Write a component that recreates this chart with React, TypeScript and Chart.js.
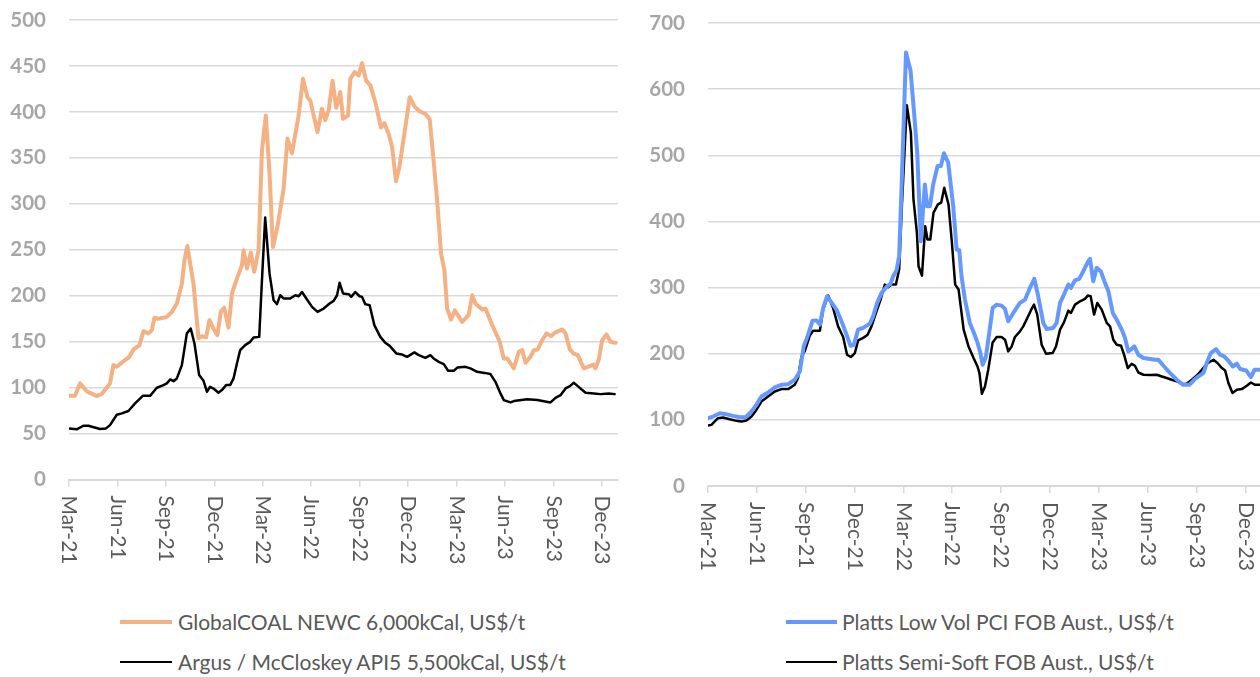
import React, { useEffect, useRef } from "react";
import { Chart, registerables } from "chart.js";

Chart.register(...registerables);

// x values are months since Mar-21
const tickMonths = [0, 3, 6, 9, 12, 15, 18, 21, 24, 27, 30, 33];
const tickLabels = ["Mar-21", "Jun-21", "Sep-21", "Dec-21", "Mar-22", "Jun-22", "Sep-22", "Dec-22", "Mar-23", "Jun-23", "Sep-23", "Dec-23"];

const newcT = [0, 0.37, 0.68, 1.13, 1.72, 2.03, 2.54, 2.75, 2.96, 3.47, 3.74, 3.99, 4.36, 4.61, 4.92, 5.13, 5.29, 5.54, 6.06, 6.37, 6.68, 6.99, 7.15, 7.33, 7.71, 8.02, 8.23, 8.49, 8.7, 8.95, 9.19, 9.4, 9.61, 9.88, 10.09, 10.4, 10.71, 10.81, 11.02, 11.26, 11.47, 11.74, 11.95, 12.19, 12.42, 12.63, 12.91, 13.29, 13.53, 13.81, 14.22, 14.49, 14.77, 14.94, 15.39, 15.67, 15.87, 16.08, 16.32, 16.55, 16.8, 16.97, 17.28, 17.42, 17.69, 17.94, 18.15, 18.4, 18.66, 18.97, 19.32, 19.53, 19.8, 20.01, 20.25, 20.46, 20.77, 21.1, 21.39, 21.72, 22.07, 22.34, 22.58, 22.8, 23.04, 23.25, 23.42, 23.66, 23.89, 24.35, 24.75, 24.97, 25.17, 25.59, 25.79, 26.21, 26.68, 26.92, 27.14, 27.55, 27.86, 28.07, 28.27, 28.58, 28.79, 29.03, 29.31, 29.57, 29.86, 30.07, 30.55, 30.75, 31.02, 31.26, 31.51, 31.88, 32.13, 32.47, 32.61, 32.81, 33.02, 33.29, 33.54, 33.85];
const newcV = [91, 91, 104.6, 95.5, 91, 93, 104.6, 124.5, 122.6, 130, 133.5, 141.5, 146, 161.4, 159, 162.5, 176, 175, 177, 182.4, 191.5, 213, 238.6, 254, 213, 153.5, 156, 154.6, 173.4, 164, 157, 182.4, 187, 165.4, 202.4, 218.7, 233, 249.5, 229.6, 247, 226, 249.5, 358, 396, 333, 253, 275, 316.5, 371, 355, 396, 436, 416, 412.5, 378, 403.5, 391, 401.6, 434, 404.6, 421.5, 392.6, 396, 436, 443.3, 439.7, 453, 434, 428.8, 410.7, 383, 387.8, 376, 361.8, 324.5, 340, 376, 416, 406, 400.5, 398, 392, 347, 303.8, 246, 227.7, 186, 174, 184, 171.5, 178.8, 200.5, 191.5, 185, 186, 168, 149.8, 131.7, 131.7, 120.9, 139, 140.8, 127, 133.5, 140.8, 141.5, 151.6, 159, 156, 159.6, 163.3, 159, 141.5, 137, 135.3, 120.9, 122.6, 125, 120.9, 130.6, 151.6, 157.8, 149.8, 148.7];

const api5T = [0, 0.48, 0.89, 1.2, 1.92, 2.29, 2.54, 2.96, 3.27, 3.68, 4.09, 4.57, 5.02, 5.44, 5.85, 6.06, 6.26, 6.47, 6.68, 6.99, 7.3, 7.54, 7.77, 8.06, 8.33, 8.54, 8.74, 8.95, 9.26, 9.47, 9.73, 9.98, 10.19, 10.4, 10.6, 10.91, 11.22, 11.43, 11.78, 11.95, 12.15, 12.42, 12.67, 12.88, 13.08, 13.29, 13.7, 14.01, 14.22, 14.43, 14.74, 15.05, 15.39, 15.77, 16.14, 16.39, 16.6, 16.76, 16.97, 17.32, 17.48, 17.73, 18.0, 18.15, 18.35, 18.62, 18.91, 19.28, 19.59, 19.86, 20.27, 20.63, 20.94, 21.39, 21.66, 22.07, 22.38, 22.58, 22.9, 23.21, 23.48, 23.83, 24.07, 24.55, 24.86, 25.28, 25.73, 26.1, 26.41, 26.72, 26.93, 27.34, 27.55, 28.38, 29.0, 29.82, 30.13, 30.44, 30.75, 31.02, 31.26, 31.51, 31.79, 31.99, 32.5, 32.92, 33.43, 33.79];
const api5V = [55.6, 54.6, 58.5, 58.5, 54.9, 55.6, 59.2, 70.5, 72, 74.5, 82.8, 91, 91, 99.8, 102.7, 104.6, 108.9, 107, 110, 124.5, 159, 164.3, 148, 113.6, 107.4, 95.5, 100.9, 99, 94.4, 97.3, 102.7, 102.7, 110, 126.3, 140.8, 146.2, 149.8, 154.6, 155.2, 216.9, 285, 224, 195, 190.8, 200.5, 197, 197, 200.5, 199.4, 204, 195.9, 187.8, 182.4, 186, 191.5, 194.4, 200.5, 214, 202.4, 201.6, 198.7, 204, 199.4, 198.7, 190.8, 189.7, 168, 155.2, 148.7, 145.4, 137.2, 136, 133.5, 138.3, 135.3, 132.4, 135.3, 131.7, 128, 125.5, 118.3, 118.3, 122, 122.6, 120.9, 117.2, 116, 114.7, 106.3, 93.7, 86.4, 83.9, 85.3, 87.2, 86.4, 83.9, 88.9, 91.8, 99.1, 101.6, 105.2, 101.6, 97.3, 94.4, 93.7, 92.9, 93.7, 92.9];

const pciT = [0, 0.31, 0.72, 1.03, 1.54, 1.95, 2.32, 2.67, 2.97, 3.28, 3.69, 4.1, 4.51, 4.92, 5.33, 5.64, 5.88, 6.15, 6.42, 6.66, 6.87, 7.07, 7.31, 7.58, 7.89, 8.2, 8.51, 8.75, 8.96, 9.22, 9.53, 9.94, 10.14, 10.39, 10.66, 10.96, 11.21, 11.37, 11.58, 11.74, 11.89, 12.16, 12.44, 12.64, 12.85, 13.07, 13.32, 13.46, 13.63, 13.83, 14.1, 14.3, 14.49, 14.75, 15.06, 15.27, 15.43, 15.57, 15.78, 16.08, 16.29, 16.53, 16.7, 16.87, 17.07, 17.27, 17.48, 17.73, 18.03, 18.24, 18.44, 18.75, 19.16, 19.47, 19.77, 20.04, 20.28, 20.59, 20.8, 21.2, 21.41, 21.62, 21.86, 22.13, 22.29, 22.54, 22.8, 23.05, 23.32, 23.46, 23.66, 23.87, 24.12, 24.38, 24.59, 24.86, 25.1, 25.41, 25.61, 25.81, 25.96, 26.18, 26.43, 26.74, 27.15, 27.46, 27.66, 27.97, 28.38, 28.79, 29.19, 29.56, 29.85, 30.12, 30.42, 30.63, 30.88, 31.2, 31.45, 31.7, 31.96, 32.23, 32.48, 32.68, 33.05, 33.34, 33.57, 33.9];
const pciV = [102.5, 105, 110, 109, 106, 104, 104, 112.6, 122.7, 135.3, 141.4, 149, 153, 154, 160.6, 173.2, 211, 228.8, 250, 250.4, 244, 269, 286.8, 277.7, 266.6, 249, 228.8, 212, 213.6, 236.4, 239, 245.4, 256.5, 276.8, 292, 301, 305.6, 317, 326.2, 347.4, 453.5, 655.5, 627.7, 569.6, 504, 370, 456, 423, 423, 456, 483.7, 483.7, 503, 489, 423, 357.5, 356.5, 317, 281.8, 246.5, 233.8, 218.6, 203.5, 183.3, 195.9, 231.3, 269.2, 274.2, 272.7, 267.7, 249, 261.6, 276.8, 281.8, 299.5, 313.1, 286.8, 246.5, 237.4, 239, 246.5, 276.8, 289.4, 304.6, 299.5, 311, 313.1, 324.7, 338.3, 343.4, 309.5, 329.8, 324.7, 307.1, 294.4, 261.6, 251.5, 236.4, 223.8, 203.5, 206, 211, 198.5, 193.5, 192, 190.9, 190.9, 181.8, 170.7, 160.6, 153, 153, 160.6, 165.6, 170.7, 185.9, 201, 207, 198.5, 195.9, 189.4, 180.7, 184.8, 176.8, 174.7, 164.7, 175.8, 175.8];

const semiT = [0, 0.21, 0.61, 0.92, 1.33, 1.75, 2.05, 2.36, 2.67, 2.97, 3.28, 3.69, 4.1, 4.51, 4.92, 5.33, 5.53, 5.74, 5.94, 6.25, 6.45, 6.87, 7.07, 7.38, 7.68, 7.99, 8.3, 8.54, 8.77, 9.02, 9.22, 9.53, 9.8, 10.04, 10.35, 10.6, 10.86, 11.06, 11.27, 11.54, 11.74, 11.9, 12.21, 12.46, 12.62, 12.83, 12.93, 13.14, 13.34, 13.48, 13.65, 13.85, 14.12, 14.32, 14.51, 14.77, 14.98, 15.18, 15.39, 15.7, 16.0, 16.31, 16.55, 16.67, 16.82, 17.01, 17.21, 17.48, 17.73, 18.03, 18.24, 18.44, 18.65, 18.85, 19.16, 19.36, 19.61, 19.82, 20.02, 20.22, 20.49, 20.76, 21.17, 21.37, 21.62, 21.86, 22.13, 22.29, 22.54, 22.85, 23.15, 23.32, 23.5, 23.71, 23.91, 24.18, 24.49, 24.69, 24.89, 25.1, 25.37, 25.57, 25.78, 26.02, 26.22, 26.43, 26.74, 27.15, 27.56, 27.87, 28.17, 28.48, 28.83, 29.1, 29.4, 29.71, 30.02, 30.33, 30.63, 31.04, 31.29, 31.56, 31.76, 31.96, 32.21, 32.48, 32.78, 33.09, 33.34, 33.6, 33.9];
const semiV = [91.4, 92.4, 102.6, 103.5, 101, 98.5, 97.4, 99, 105, 115, 127.7, 135.3, 142.9, 146.5, 146.5, 153, 163.2, 195.9, 203.5, 227.3, 234.8, 234.8, 266.6, 287.9, 269.2, 241.3, 225.3, 198.5, 195, 201, 220.1, 223.8, 228.8, 241.3, 264.1, 281.8, 304.5, 300.4, 304.5, 304.5, 327.3, 420, 575.7, 534.3, 433, 382.8, 332.2, 318, 392.8, 372.7, 372.7, 413.2, 425.7, 428.3, 451, 425.7, 367.7, 304.5, 297, 236.4, 211, 193.5, 180.8, 170.7, 139.4, 150.4, 175.8, 217.1, 225.3, 225.3, 221.2, 203.5, 211, 225.3, 233.8, 241.3, 254, 265.1, 274.2, 259.1, 213.6, 200, 201, 211, 236.4, 247.4, 265.1, 261.6, 274.2, 279.2, 282.9, 287.9, 286.8, 259.1, 276.8, 266.6, 246.5, 241.3, 221.2, 213.6, 212, 197, 178.3, 184.8, 181.8, 171.6, 168.2, 167.7, 168.2, 165.6, 163.2, 160.6, 158, 154, 154.5, 160.6, 167.1, 175.8, 184.8, 190.9, 185.9, 178.3, 174.7, 155.6, 140.5, 145.4, 146.5, 151.5, 156.5, 153, 153];

const leftSeries = [
  { label: "GlobalCOAL NEWC 6,000kCal, US$/t", t: newcT, v: newcV, color: "#F4B183", width: 4 },
  { label: "Argus / McCloskey API5 5,500kCal, US$/t", t: api5T, v: api5V, color: "#000000", width: 2.5 },
];
const rightSeries = [
  { label: "Platts Low Vol PCI FOB Aust., US$/t", t: pciT, v: pciV, color: "#6699FF", width: 4 },
  { label: "Platts Semi-Soft FOB Aust., US$/t", t: semiT, v: semiV, color: "#000000", width: 2.5 },
];

const FONT = "Lato, 'Open Sans', sans-serif";

const rotatedLabelsPlugin = {
  id: "rotatedLabels",
  afterDraw(chart: any) {
    const { ctx } = chart;
    const x = chart.scales.x;
    ctx.save();
    ctx.font = `21px ${FONT}`;
    ctx.fillStyle = "#595959";
    ctx.textAlign = "left";
    ctx.textBaseline = "middle";
    tickMonths.forEach((m, i) => {
      const px = x.getPixelForValue(m);
      ctx.save();
      ctx.translate(px, x.top + 16);
      ctx.rotate(Math.PI / 2);
      ctx.fillText(tickLabels[i], 0, 0);
      ctx.restore();
    });
    ctx.restore();
  },
};

type PanelProps = {
  series: typeof leftSeries;
  yMax: number;
  yStep: number;
  xMax: number;
  axisWidth: number;
  padTop: number;
  padRight: number;
  plotBottom: number;
};

const CANVAS_H = 600;

function Panel({ series, yMax, yStep, xMax, axisWidth, padTop, padRight, plotBottom }: PanelProps) {
  const ref = useRef<HTMLCanvasElement | null>(null);
  useEffect(() => {
    if (!ref.current) return;
    const chart = new Chart(ref.current, {
      type: "line",
      data: {
        datasets: series.map((s) => ({
          label: s.label,
          data: s.t.map((t, i) => ({ x: t, y: s.v[i] })),
          borderColor: s.color,
          backgroundColor: s.color,
          borderWidth: s.width,
          pointRadius: 0,
          tension: 0,
          borderJoinStyle: "round" as const,
          borderCapStyle: "round" as const,
          fill: false,
        })),
      },
      options: {
        responsive: false,
        animation: false,
        devicePixelRatio: 1,
        layout: { padding: { left: 0, right: padRight, top: padTop, bottom: CANVAS_H - plotBottom - 7 } },
        plugins: { legend: { display: false }, tooltip: { enabled: false } },
        scales: {
          x: {
            type: "linear",
            min: 0,
            max: xMax,
            afterBuildTicks: (scale: any) => {
              scale.ticks = tickMonths.map((v) => ({ value: v }));
            },
            ticks: { display: false },
            grid: { drawOnChartArea: false, drawTicks: true, tickLength: 7, color: "#d9d9d9", lineWidth: 1.5 },
            border: { display: true, color: "#d9d9d9", width: 2 },
          },
          y: {
            min: 0,
            max: yMax,
            afterFit: (scale: any) => {
              scale.width = axisWidth;
            },
            ticks: {
              stepSize: yStep,
              padding: 0,
              color: "#a6a6a6",
              font: { family: FONT, size: 20.5, weight: "bold" },
            },
            grid: { color: "#d9d9d9", lineWidth: 1.5, drawTicks: true, tickLength: 23, tickColor: "rgba(0,0,0,0)" },
            border: { display: false },
          },
        },
      },
      plugins: [rotatedLabelsPlugin],
    });
    return () => chart.destroy();
  }, []);
  return <canvas ref={ref} width={630} height={CANVAS_H} style={{ display: "block" }} />;
}

function Legend({ items, lineLeft, lineWidthPx, textLeft }: { items: typeof leftSeries; lineLeft: number; lineWidthPx: number; textLeft: number }) {
  const rows = [622, 662];
  return (
    <>
      {items.map((s, i) => (
        <React.Fragment key={s.label}>
          <div
            style={{
              position: "absolute",
              left: lineLeft,
              top: rows[i] - s.width / 2,
              width: lineWidthPx,
              height: s.width,
              background: s.color,
            }}
          />
          <div
            style={{
              position: "absolute",
              left: textLeft,
              top: rows[i] - 14,
              height: 28,
              lineHeight: "28px",
              fontFamily: FONT,
              fontSize: 21,
              color: "#595959",
              whiteSpace: "nowrap",
            }}
          >
            {s.label}
          </div>
        </React.Fragment>
      ))}
    </>
  );
}

export default function App() {
  return (
    <div style={{ position: "absolute", left: 0, top: 0, width: 1260, height: 677, overflow: "hidden", background: "#fff" }}>
      <div style={{ position: "absolute", left: 0, top: 0 }}>
        <Panel series={leftSeries} yMax={500} yStep={50} xMax={34} axisWidth={69} padTop={20} padRight={12} plotBottom={479.5} />
      </div>
      <div style={{ position: "absolute", left: 630, top: 0 }}>
        <Panel series={rightSeries} yMax={700} yStep={100} xMax={33.9} axisWidth={78} padTop={23} padRight={0} plotBottom={486} />
      </div>
      <Legend items={leftSeries} lineLeft={120} lineWidthPx={52} textLeft={178} />
      <Legend items={rightSeries} lineLeft={786} lineWidthPx={51} textLeft={842} />
    </div>
  );
}
